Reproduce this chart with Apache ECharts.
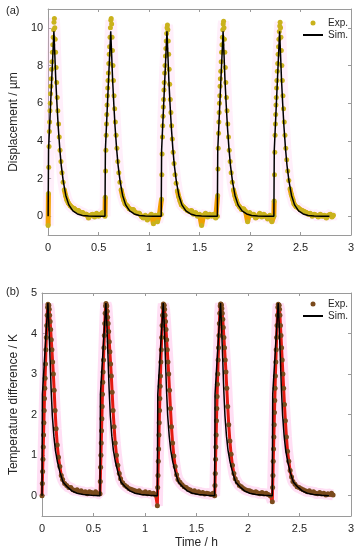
<!DOCTYPE html>
<html><head><meta charset="utf-8">
<script src="https://cdn.jsdelivr.net/npm/echarts@6/dist/echarts.min.js"></script>
<style>html,body{margin:0;padding:0;background:#fff}#c{width:358px;height:550px}</style>
</head><body><div id="c"></div>
<script>
// ---- data ----
const xTicks = [0, 0.5, 1, 1.5, 2, 2.5, 3];
const dispTicks = [0, 2, 4, 6, 8, 10];
const tempTicks = [0, 1, 2, 3, 4, 5];

const expTime = [
  // cycle 1
  0, 0.003, 0.006, 0.009, 0.012, 0.015, 0.018, 0.021, 0.024, 0.027, 0.030, 0.034, 0.038, 0.042, 0.046, 0.050, 0.054, 0.058, 0.062,
  0.066, 0.070, 0.074, 0.079, 0.084, 0.090, 0.096, 0.103, 0.110, 0.118, 0.127, 0.137, 0.148, 0.160, 0.173, 0.187,
  0.20, 0.22, 0.24, 0.26, 0.28, 0.30, 0.32, 0.34, 0.36, 0.38, 0.40, 0.42, 0.44, 0.46, 0.48, 0.50, 0.52, 0.54,
  // cycle 2
  0.563, 0.566, 0.569, 0.572, 0.575, 0.578, 0.581, 0.584, 0.587, 0.590, 0.593, 0.597, 0.601, 0.605, 0.609, 0.613, 0.617, 0.621, 0.625,
  0.629, 0.633, 0.637, 0.642, 0.647, 0.653, 0.659, 0.666, 0.673, 0.681, 0.690, 0.700, 0.711, 0.723, 0.736, 0.750,
  0.763, 0.783, 0.803, 0.823, 0.843, 0.863, 0.883, 0.903, 0.923, 0.943, 0.963, 0.983, 1.003, 1.023, 1.043, 1.063, 1.083, 1.103,
  // cycle 3
  1.120, 1.123, 1.126, 1.129, 1.132, 1.135, 1.138, 1.141, 1.144, 1.147, 1.150, 1.154, 1.158, 1.162, 1.166, 1.170, 1.174, 1.178, 1.182,
  1.186, 1.190, 1.194, 1.199, 1.204, 1.210, 1.216, 1.223, 1.230, 1.238, 1.247, 1.257, 1.268, 1.280, 1.293, 1.307,
  1.320, 1.340, 1.360, 1.380, 1.400, 1.420, 1.440, 1.460, 1.480, 1.500, 1.520, 1.540, 1.560, 1.580, 1.600, 1.620, 1.640, 1.660,
  // cycle 4
  1.676, 1.679, 1.682, 1.685, 1.688, 1.691, 1.694, 1.697, 1.700, 1.703, 1.706, 1.710, 1.714, 1.718, 1.722, 1.726, 1.730, 1.734, 1.738,
  1.742, 1.746, 1.750, 1.755, 1.760, 1.766, 1.772, 1.779, 1.786, 1.794, 1.803, 1.813, 1.824, 1.836, 1.849, 1.863,
  1.876, 1.896, 1.916, 1.936, 1.956, 1.976, 1.996, 2.016, 2.036, 2.056, 2.076, 2.096, 2.116, 2.136, 2.156, 2.176, 2.196, 2.216,
  // cycle 5
  2.236, 2.239, 2.242, 2.245, 2.248, 2.251, 2.254, 2.257, 2.260, 2.263, 2.266, 2.270, 2.274, 2.278, 2.282, 2.286, 2.290, 2.294, 2.298,
  2.302, 2.306, 2.310, 2.315, 2.320, 2.326, 2.332, 2.339, 2.346, 2.354, 2.363, 2.373, 2.384, 2.396, 2.409, 2.423,
  2.436, 2.456, 2.476, 2.496, 2.516, 2.536, 2.556, 2.576, 2.596, 2.616, 2.636, 2.656, 2.676, 2.696, 2.716, 2.736, 2.756, 2.776, 2.796, 2.811, 2.826
];

const dispExp = [
  -0.5, 1.2, 2.6, 3.7, 4.5, 5.0, 5.6, 6.0, 6.5, 6.9, 7.3, 7.8, 8.2, 8.7, 9.1, 9.5, 9.9, 10.3, 10.5,
  10.0, 9.4, 8.7, 7.9, 7.1, 6.3, 5.6, 4.9, 4.2, 3.5, 2.9, 2.3, 1.8, 1.4, 1.1, 0.85,
  0.7, 0.55, 0.45, 0.4, 0.3, 0.3, 0.2, 0.2, 0.1, 0.1, -0.1, 0.05, 0.1, -0.05, 0.15, 0.0, 0.1, 0.2,

  0.0, 1.0, 2.4, 3.5, 4.3, 4.9, 5.4, 5.9, 6.4, 6.8, 7.2, 7.6, 8.1, 8.6, 9.0, 9.5, 10.0, 10.4, 10.5,
  10.2, 9.5, 8.8, 8.0, 7.2, 6.4, 5.7, 5.0, 4.3, 3.6, 2.9, 2.3, 1.8, 1.4, 1.1, 0.85,
  0.65, 0.55, 0.4, 0.35, 0.35, 0.2, 0.15, 0.15, 0.0, -0.1, 0.05, -0.2, 0.0, 0.1, -0.4, 0.05, -0.3, 0.1,

  0.1, 0.9, 2.2, 3.3, 4.2, 4.8, 5.3, 5.8, 6.2, 6.7, 7.1, 7.6, 8.0, 8.5, 8.9, 9.3, 9.7, 10.0, 10.15,
  9.9, 9.3, 8.6, 7.8, 7.0, 6.2, 5.5, 4.8, 4.1, 3.4, 2.8, 2.2, 1.75, 1.35, 1.05, 0.8,
  0.6, 0.5, 0.4, 0.3, 0.25, 0.3, 0.1, 0.2, 0.0, 0.1, -0.5, 0.05, 0.15, -0.05, 0.1, 0.0, 0.1, -0.1,

  0.0, 1.1, 2.5, 3.6, 4.4, 5.0, 5.5, 6.0, 6.4, 6.9, 7.3, 7.7, 8.2, 8.7, 9.1, 9.5, 9.9, 10.2, 10.35,
  10.0, 9.4, 8.7, 7.9, 7.1, 6.3, 5.6, 4.9, 4.2, 3.5, 2.9, 2.3, 1.8, 1.4, 1.1, 0.85,
  0.65, 0.5, 0.35, 0.4, 0.25, -0.3, 0.2, 0.05, 0.1, -0.1, 0.0, 0.15, -0.05, 0.1, 0.0, -0.15, 0.05, -0.3,

  0.0, 0.8, 2.2, 3.4, 4.3, 4.9, 5.4, 5.9, 6.3, 6.8, 7.2, 7.7, 8.1, 8.6, 9.0, 9.4, 9.8, 10.1, 10.3,
  10.0, 9.5, 8.8, 8.0, 7.2, 6.4, 5.7, 5.0, 4.3, 3.6, 3.0, 2.4, 1.9, 1.45, 1.15, 0.9,
  0.65, 0.5, 0.45, 0.35, 0.3, 0.25, 0.2, 0.1, 0.15, 0.0, 0.1, 0.05, -0.05, 0.1, 0.0, 0.05, -0.1, 0.05, 0.1, -0.05, 0.05
];

const tempExp = [
  0.0, 0.3, 0.6, 0.9, 1.2, 1.5, 1.8, 2.1, 2.4, 2.65, 2.9, 3.25, 3.6, 3.9, 4.2, 4.45, 4.65, 4.72, 4.7,
  4.7, 4.6, 4.45, 4.3, 4.1, 3.85, 3.6, 3.3, 3.0, 2.6, 2.1, 1.65, 1.25, 0.95, 0.72, 0.5,
  0.4, 0.3, 0.25, 0.2, 0.2, 0.15, 0.12, 0.15, 0.1, 0.12, 0.08, 0.1, 0.05, 0.1, 0.08, 0.05, 0.1, 0.05,

  0.05, 0.35, 0.7, 1.0, 1.3, 1.6, 1.9, 2.2, 2.5, 2.8, 3.05, 3.35, 3.65, 3.95, 4.25, 4.5, 4.68, 4.74, 4.7,
  4.68, 4.55, 4.4, 4.25, 4.05, 3.8, 3.55, 3.25, 2.95, 2.55, 2.1, 1.7, 1.3, 1.0, 0.75, 0.55,
  0.42, 0.32, 0.26, 0.22, 0.18, 0.16, 0.14, 0.12, 0.1, 0.12, 0.08, 0.06, 0.1, 0.05, 0.08, 0.04, 0.06, 0.02,

  -0.25, 0.2, 0.5, 0.85, 1.15, 1.5, 1.8, 2.1, 2.4, 2.7, 2.95, 3.3, 3.6, 3.9, 4.2, 4.45, 4.65, 4.73, 4.7,
  4.7, 4.6, 4.45, 4.3, 4.1, 3.85, 3.6, 3.3, 3.0, 2.6, 2.15, 1.7, 1.3, 0.98, 0.72, 0.52,
  0.4, 0.33, 0.27, 0.22, 0.2, 0.16, 0.14, 0.1, 0.12, 0.08, 0.1, 0.06, 0.08, 0.04, 0.06, 0.05, 0.03, 0.06,

  0.0, 0.25, 0.55, 0.9, 1.2, 1.5, 1.85, 2.15, 2.45, 2.75, 3.0, 3.35, 3.65, 3.95, 4.25, 4.5, 4.68, 4.73, 4.72,
  4.7, 4.62, 4.5, 4.35, 4.15, 3.9, 3.65, 3.35, 3.05, 2.65, 2.2, 1.75, 1.35, 1.02, 0.75, 0.55,
  0.42, 0.33, 0.25, 0.22, 0.18, 0.15, 0.13, 0.12, 0.1, 0.08, 0.1, 0.07, 0.05, 0.08, 0.04, 0.06, 0.03, 0.0,

  -0.15, 0.2, 0.5, 0.85, 1.15, 1.45, 1.75, 2.05, 2.35, 2.65, 2.95, 3.3, 3.6, 3.9, 4.2, 4.45, 4.65, 4.72, 4.7,
  4.7, 4.6, 4.45, 4.2, 3.95, 3.65, 3.35, 3.0, 2.65, 2.25, 1.85, 1.45, 1.1, 0.85, 0.62, 0.46,
  0.35, 0.28, 0.22, 0.2, 0.17, 0.15, 0.12, 0.1, 0.12, 0.08, 0.1, 0.06, 0.05, 0.08, 0.04, 0.06, 0.02, 0.05, 0.03, 0.06, 0.02
];

const simTime = [
  0, 0.004, 0.057, 0.066, 0.076, 0.088, 0.100, 0.115, 0.130, 0.150, 0.175, 0.205, 0.245, 0.29, 0.34, 0.40, 0.48,
  0.563, 0.567, 0.620, 0.629, 0.639, 0.651, 0.663, 0.678, 0.693, 0.713, 0.738, 0.768, 0.808, 0.853, 0.903, 0.963, 1.043,
  1.120, 1.124, 1.177, 1.186, 1.196, 1.208, 1.220, 1.235, 1.250, 1.270, 1.295, 1.325, 1.365, 1.410, 1.460, 1.520, 1.600,
  1.676, 1.680, 1.733, 1.742, 1.752, 1.764, 1.776, 1.791, 1.806, 1.826, 1.851, 1.881, 1.921, 1.966, 2.016, 2.076, 2.156,
  2.236, 2.240, 2.293, 2.302, 2.312, 2.324, 2.336, 2.351, 2.366, 2.386, 2.411, 2.441, 2.481, 2.526, 2.576, 2.636, 2.716,
  2.786
];
const simDisp = [
  0, 3.5, 9.82, 8.6, 7.2, 5.9, 4.75, 3.6, 2.7, 1.85, 1.1, 0.6, 0.28, 0.12, 0.04, 0.01, 0,
  0, 3.5, 9.82, 8.6, 7.2, 5.9, 4.75, 3.6, 2.7, 1.85, 1.1, 0.6, 0.28, 0.12, 0.04, 0.01, 0,
  0, 3.5, 9.82, 8.6, 7.2, 5.9, 4.75, 3.6, 2.7, 1.85, 1.1, 0.6, 0.28, 0.12, 0.04, 0.01, 0,
  0, 3.5, 9.82, 8.6, 7.2, 5.9, 4.75, 3.6, 2.7, 1.85, 1.1, 0.6, 0.28, 0.12, 0.04, 0.01, 0,
  0, 3.5, 9.82, 8.6, 7.2, 5.9, 4.75, 3.6, 2.7, 1.85, 1.1, 0.6, 0.28, 0.12, 0.04, 0.01, 0,
  0
];
const simTemp = [
  0, 2.5, 4.75, 4.25, 3.55, 2.65, 1.98, 1.47, 1.12, 0.83, 0.57, 0.33, 0.22, 0.12, 0.06, 0.03, 0.01,
  0, 2.5, 4.75, 4.25, 3.55, 2.65, 1.98, 1.47, 1.12, 0.83, 0.57, 0.33, 0.22, 0.12, 0.06, 0.03, 0.01,
  0, 2.5, 4.75, 4.25, 3.55, 2.65, 1.98, 1.47, 1.12, 0.83, 0.57, 0.33, 0.22, 0.12, 0.06, 0.03, 0.01,
  0, 2.5, 4.75, 4.25, 3.55, 2.65, 1.98, 1.47, 1.12, 0.83, 0.57, 0.33, 0.22, 0.12, 0.06, 0.03, 0.01,
  0, 2.5, 4.75, 4.25, 3.55, 2.65, 1.98, 1.47, 1.12, 0.83, 0.57, 0.33, 0.22, 0.12, 0.06, 0.03, 0.01,
  0
];

// ---- chart ----
const FONT = 'Liberation Sans, Arial, sans-serif';
const AX = '#9a9a9a';
const TXT = '#262626';
const pairs = (t, v) => t.map((x, i) => [x, v[i]]);
const lowPart = (t, v, lim) => t.map((x, i) => [x, v[i] < lim ? v[i] : '-']);

function xAxes(grid, withLabels, name) {
  return [
    { gridIndex: grid, type: 'value', min: 0, max: 3, interval: 0.5, position: 'bottom',
      axisLine: { show: true, onZero: false, lineStyle: { color: AX, width: 1 } },
      axisTick: { show: true, inside: true, length: 3, lineStyle: { color: AX } },
      axisLabel: { show: withLabels, color: TXT, fontSize: 11, fontFamily: FONT, margin: 7, customValues: xTicks },
      splitLine: { show: false },
      name: name, nameLocation: 'middle', nameGap: 21,
      nameTextStyle: { color: TXT, fontSize: 12, fontFamily: FONT } },
    { gridIndex: grid, type: 'value', min: 0, max: 3, interval: 0.5, position: 'top',
      axisLine: { show: true, onZero: false, lineStyle: { color: AX, width: 1 } },
      axisTick: { show: true, inside: true, length: 3, lineStyle: { color: AX } },
      axisLabel: { show: false }, splitLine: { show: false } }
  ];
}
function yAxes(grid, min, max, ticks, name) {
  return [
    { gridIndex: grid, type: 'value', min: min, max: max, position: 'left',
      axisLine: { show: true, onZero: false, lineStyle: { color: AX, width: 1 } },
      axisTick: { show: true, inside: true, length: 3, lineStyle: { color: AX }, customValues: ticks },
      axisLabel: { color: TXT, fontSize: 11, fontFamily: FONT, margin: 5, customValues: ticks },
      splitLine: { show: false },
      name: name, nameLocation: 'middle', nameGap: 17,
      nameTextStyle: { color: TXT, fontSize: 12, fontFamily: FONT } },
    { gridIndex: grid, type: 'value', min: min, max: max, position: 'right',
      axisLine: { show: true, onZero: false, lineStyle: { color: AX, width: 1 } },
      axisTick: { show: true, inside: true, length: 3, lineStyle: { color: AX }, customValues: ticks },
      axisLabel: { show: false }, splitLine: { show: false } }
  ];
}

const chart = echarts.init(document.getElementById('c'), null, { renderer: 'canvas' });
const legendBase = {
  orient: 'vertical', left: 302, itemWidth: 20, itemHeight: 5, itemGap: 0, padding: 0,
  selectedMode: false,
  textStyle: { color: TXT, fontSize: 10, fontFamily: FONT, lineHeight: 12 },
  formatter: n => n.trim()
};
const hideDot = { color: 'rgba(0,0,0,0)', borderWidth: 0, opacity: 0 };
chart.setOption({
  animation: false,
  backgroundColor: '#fff',
  grid: [
    { left: 33, right: 7, top: 9, height: 226 },
    { left: 33, right: 7, top: 293, height: 224 }
  ],
  xAxis: [...xAxes(0, true, ''), ...xAxes(1, true, 'Time / h')],
  yAxis: [...yAxes(0, -1, 11, dispTicks, 'Displacement / µm'), ...yAxes(1, -0.5, 5, tempTicks, 'Temperature difference / K')],
  legend: [
    Object.assign({}, legendBase, { top: 17, data: ['Exp.', { name: 'Sim.', itemStyle: hideDot }] }),
    Object.assign({}, legendBase, { top: 298, data: ['Exp. ', { name: 'Sim. ', itemStyle: hideDot }] })
  ],
  graphic: [
    { type: 'text', left: 6, top: 5, style: { text: '(a)', fill: TXT, font: '11px ' + FONT } },
    { type: 'text', left: 6, top: 286, style: { text: '(b)', fill: TXT, font: '11px ' + FONT } }
  ],
  series: [
    // panel (a)
    { name: 'bandA', type: 'line', xAxisIndex: 0, yAxisIndex: 0, data: pairs(expTime, dispExp),
      symbol: 'none', lineStyle: { color: 'rgba(255,180,230,0.22)', width: 11 }, z: 1, silent: true },
    { name: 'denseA', type: 'line', xAxisIndex: 0, yAxisIndex: 0, data: lowPart(expTime, dispExp, 1.6),
      symbol: 'none', connectNulls: false, lineStyle: { color: '#f0a000', width: 5 }, z: 2, silent: true },
    { name: 'Exp.', type: 'scatter', xAxisIndex: 0, yAxisIndex: 0, data: pairs(expTime, dispExp),
      symbol: 'circle', symbolSize: 5, itemStyle: { color: '#c9b21c', opacity: 1 }, z: 3 },
    { name: 'Sim.', type: 'line', xAxisIndex: 0, yAxisIndex: 0, data: pairs(simTime, simDisp),
      symbol: 'none', showSymbol: false, lineStyle: { color: '#000', width: 1.5 }, itemStyle: { color: '#000' }, z: 4 },
    // panel (b)
    { name: 'bandB', type: 'line', xAxisIndex: 2, yAxisIndex: 2, data: pairs(expTime, tempExp),
      symbol: 'none', lineStyle: { color: 'rgba(255,150,220,0.3)', width: 11 }, z: 1, silent: true },
    { name: 'denseB', type: 'line', xAxisIndex: 2, yAxisIndex: 2, data: pairs(expTime, tempExp),
      symbol: 'none', lineStyle: { color: '#e31a10', width: 3 }, z: 2, silent: true },
    { name: 'Exp. ', type: 'scatter', xAxisIndex: 2, yAxisIndex: 2, data: pairs(expTime, tempExp),
      symbol: 'circle', symbolSize: 5, itemStyle: { color: '#7a4a1c', opacity: 1 }, z: 3 },
    { name: 'Sim. ', type: 'line', xAxisIndex: 2, yAxisIndex: 2, data: pairs(simTime, simTemp),
      symbol: 'none', showSymbol: false, lineStyle: { color: '#000', width: 1.5 }, itemStyle: { color: '#000' }, z: 4 }
  ]
});
</script>
</body></html>
